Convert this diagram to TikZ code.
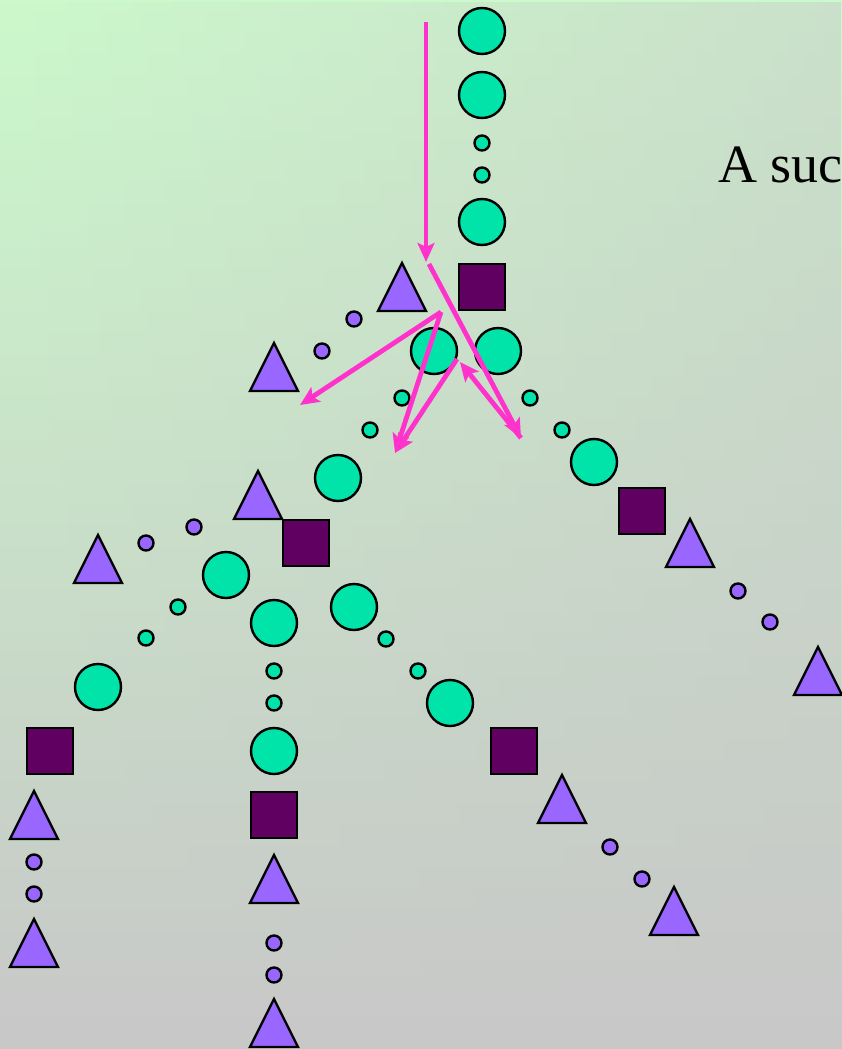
\documentclass[tikz,border=0pt]{standalone}
\usepackage{fontspec}
\setmainfont{Liberation Serif}
\usetikzlibrary{arrows.meta,fadings}
\definecolor{bgtop}{HTML}{CCF9CC}
\definecolor{bgbot}{HTML}{C8C8C8}
\definecolor{gcirc}{HTML}{00E4AA}
\definecolor{ptri}{HTML}{9966FF}
\definecolor{dsq}{HTML}{600060}
\definecolor{mag}{HTML}{FF33CC}
\tikzset{
  bigc/.style={circle,draw=black,line width=2.4pt,fill=gcirc,minimum size=46pt,inner sep=0pt},
  smallc/.style={circle,draw=black,line width=2.4pt,fill=gcirc,minimum size=15pt,inner sep=0pt},
  smallp/.style={circle,draw=black,line width=2.4pt,fill=ptri,minimum size=15pt,inner sep=0pt},
  sqbox/.style={rectangle,draw=black,line width=2.4pt,fill=dsq,minimum size=46pt,inner sep=0pt},
  tribox/.style={draw=black,line width=2.4pt,fill=ptri,line join=miter},
  magarrow/.style={draw=mag,line width=4.8pt,-{Stealth[length=19pt,width=17pt,inset=4pt]}},
}
\newcommand{\mytri}[3]{\draw[tribox] (#2-24,#3+24) -- (#2,#3-24) -- (#2+24,#3+24) -- cycle;
  \coordinate (#1) at (#2,#3);}
\begin{document}
\begin{tikzpicture}[x=1pt,y=-1pt]
\useasboundingbox (0,0) rectangle (842,1049);
\clip (0,0) rectangle (842,1049);
\shade[top color=bgtop,bottom color=bgbot] (0,0) rectangle (842,1049);
\fill[bgbot,opacity=0.5,path fading=west] (0,0) rectangle (842,1049);
% big green circles
\node[bigc] (g1) at (482,31) {};
\node[bigc] (g2) at (482,95) {};
\node[bigc] (g3) at (482,222) {};
\node[bigc] (g4) at (434,351) {};
\node[bigc] (g5) at (498,351) {};
\node[bigc] (g6) at (338,478) {};
\node[bigc] (g7) at (594,462) {};
\node[bigc] (g8) at (226,575) {};
\node[bigc] (g9) at (274,623) {};
\node[bigc] (g10) at (354,607) {};
\node[bigc] (g11) at (98,687) {};
\node[bigc] (g12) at (274,751) {};
\node[bigc] (g13) at (450,703) {};
% small green circles
\node[smallc] (s1) at (482,143) {};
\node[smallc] (s2) at (482,175) {};
\node[smallc] (s3) at (402,398) {};
\node[smallc] (s4) at (370,430) {};
\node[smallc] (s5) at (530,398) {};
\node[smallc] (s6) at (562,430) {};
\node[smallc] (s7) at (178,607) {};
\node[smallc] (s8) at (146,638) {};
\node[smallc] (s9) at (274,671) {};
\node[smallc] (s10) at (274,703) {};
\node[smallc] (s11) at (386,639) {};
\node[smallc] (s12) at (418,671) {};
% small purple circles
\node[smallp] (p1) at (354,319) {};
\node[smallp] (p2) at (322,351) {};
\node[smallp] (p3) at (194,527) {};
\node[smallp] (p4) at (146,543) {};
\node[smallp] (p5) at (738,591) {};
\node[smallp] (p6) at (770,622) {};
\node[smallp] (p7) at (34,862) {};
\node[smallp] (p8) at (34,894) {};
\node[smallp] (p9) at (274,943) {};
\node[smallp] (p10) at (274,975) {};
\node[smallp] (p11) at (610,847) {};
\node[smallp] (p12) at (642,879) {};
% squares
\node[sqbox] (q1) at (482,287) {};
\node[sqbox] (q2) at (642,511) {};
\node[sqbox] (q3) at (306,543) {};
\node[sqbox] (q4) at (50,751) {};
\node[sqbox] (q5) at (274,815) {};
\node[sqbox] (q6) at (514,751) {};
% triangles
\mytri{t1}{402}{287}
\mytri{t2}{274}{367}
\mytri{t3}{258}{495}
\mytri{t4}{690}{543}
\mytri{t5}{818}{671}
\mytri{t6}{98}{559}
\mytri{t7}{34}{815}
\mytri{t8}{34}{943}
\mytri{t9}{274}{879}
\mytri{t10}{274}{1023}
\mytri{t11}{562}{799}
\mytri{t12}{674}{911}
% text
\node[anchor=base west,inner sep=0pt,font=\fontsize{54}{60}\selectfont] (txt) at (718,182) {A succ};
% arrows
\coordinate (a0) at (426,22);
\coordinate (a1) at (426,262);
\coordinate (b0) at (429,264);
\coordinate (b1) at (521,438);
\coordinate (c0) at (441,312);
\coordinate (c1) at (300,405);
\coordinate (d1) at (395,453);
\coordinate (e0) at (457,359);
\coordinate (f1) at (460,362);
\draw[magarrow] (a0) -- (a1);
\draw[magarrow] (b0) -- (b1);
\draw[magarrow] (c0) -- (c1);
\draw[magarrow] (c0) -- (d1);
\draw[magarrow] (e0) -- (d1);
\draw[magarrow] (b1) -- (f1);
\end{tikzpicture}
\end{document}
